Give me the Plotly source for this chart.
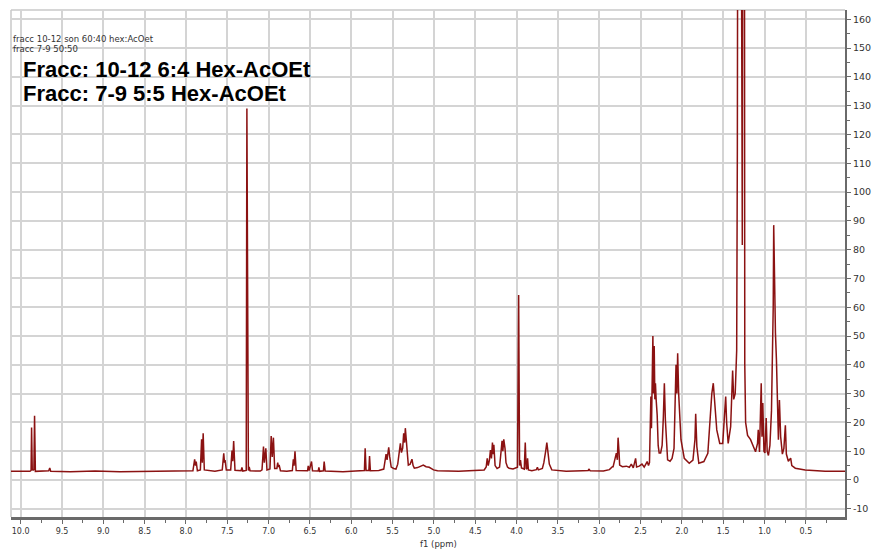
import plotly.graph_objects as go

# ---- spectrum trace values (ppm, intensity) ----
aldehyde_ppm = [10.117, 9.95, 9.888, 9.874, 9.868, 9.860, 9.850, 9.840, 9.832, 9.822,
                9.75, 9.660, 9.648, 9.636, 9.40, 9.10, 8.80, 8.50, 8.20, 7.95]
aldehyde_int = [3.0, 3.1, 3.0, 3.3, 18.2, 3.6, 3.4, 3.6, 22.3, 3.0,
                3.1, 3.2, 4.2, 3.0, 2.9, 3.1, 2.9, 3.0, 3.1, 3.0]

aromatic_ppm = [7.916, 7.895, 7.885, 7.876, 7.862, 7.826, 7.811, 7.802, 7.792, 7.778,
                7.65, 7.561, 7.543, 7.534, 7.527, 7.512, 7.459, 7.443, 7.434, 7.423,
                7.407, 7.333, 7.323, 7.312, 7.271, 7.263, 7.254, 7.245, 7.235, 7.225,
                7.10, 7.080, 7.062, 7.052, 7.034, 7.020, 6.984, 6.969, 6.956, 6.942,
                6.927, 6.900, 6.890, 6.882, 6.873, 6.857, 6.78, 6.713, 6.701, 6.692,
                6.681, 6.667, 6.529, 6.521, 6.509, 6.481, 6.469, 6.40, 6.392, 6.382,
                6.337, 6.328, 6.316, 6.20]
aromatic_int = [3.2, 7.2, 5.0, 6.4, 3.2, 3.5, 14.1, 6.0, 16.2, 3.5,
                3.0, 3.5, 9.3, 6.0, 6.9, 3.5, 3.5, 10.2, 6.5, 13.5,
                3.4, 3.2, 4.4, 3.1, 3.3, 129.0, 3.5, 3.3, 4.5, 3.2,
                3.1, 3.5, 11.6, 6.0, 11.0, 3.5, 3.8, 15.3, 8.0, 14.7,
                4.0, 4.0, 6.0, 4.5, 5.2, 3.2, 3.0, 3.3, 7.2, 5.0,
                10.0, 3.3, 3.2, 4.9, 3.3, 6.4, 3.2, 3.1, 4.4, 3.0,
                3.2, 6.4, 3.1, 3.0]

olefinic_ppm = [6.10, 5.95, 5.841, 5.832, 5.821, 5.787, 5.779, 5.769, 5.667, 5.607,
                5.579, 5.567, 5.547, 5.535, 5.517, 5.487, 5.459, 5.438, 5.423, 5.406,
                5.393, 5.378, 5.366, 5.354, 5.346, 5.334, 5.322, 5.310, 5.288, 5.266,
                5.252, 5.237, 5.198, 5.162, 5.129, 5.095, 5.057, 5.005, 4.957, 4.70]
olefinic_int = [2.9, 3.1, 3.3, 11.0, 3.3, 3.3, 8.3, 3.2, 3.3, 3.8,
                9.0, 7.0, 11.3, 8.1, 4.5, 4.0, 3.8, 5.5, 9.3, 12.7,
                9.5, 11.1, 16.2, 13.0, 18.0, 13.9, 8.0, 5.2, 5.5, 7.2,
                5.0, 4.1, 4.3, 4.8, 5.2, 4.6, 4.4, 3.5, 3.2, 3.0]

oxy_ppm = [4.392, 4.368, 4.355, 4.343, 4.328, 4.316, 4.304, 4.292, 4.284, 4.275,
           4.260, 4.236, 4.206, 4.188, 4.176, 4.166, 4.155, 4.140, 4.128, 4.110,
           4.091, 4.043, 4.007, 3.989, 3.975, 3.964, 3.953, 3.941, 3.907, 3.895,
           3.884, 3.875, 3.867, 3.857, 3.815, 3.760, 3.748, 3.736, 3.688, 3.670,
           3.646, 3.634, 3.619, 3.604, 3.574, 3.40, 3.20, 3.133, 3.126, 3.110,
           2.95]
oxy_int = [3.5, 4.5, 7.5, 5.0, 7.0, 10.4, 7.5, 13.0, 9.0, 12.2,
           5.0, 4.0, 4.5, 9.8, 13.6, 10.0, 14.1, 11.0, 6.0, 4.5,
           4.1, 3.8, 4.2, 4.4, 64.2, 5.0, 6.9, 4.2, 3.8, 13.0,
           3.8, 4.0, 7.5, 3.5, 3.2, 3.6, 4.4, 3.5, 4.0, 6.0,
           10.4, 13.0, 9.3, 5.5, 3.5, 3.0, 3.2, 3.3, 3.8, 3.2,
           3.1]

aliphatic_ppm = [2.877, 2.841, 2.832, 2.813, 2.793, 2.781, 2.772, 2.760, 2.753, 2.720,
                 2.672, 2.636, 2.612, 2.588, 2.560, 2.548, 2.516, 2.483, 2.456, 2.420,
                 2.404, 2.392, 2.375, 2.368, 2.351, 2.344, 2.335, 2.327, 2.320, 2.311,
                 2.299, 2.287, 2.275, 2.257, 2.239, 2.224, 2.212, 2.200, 2.188, 2.173,
                 2.143, 2.119, 2.095, 2.083, 2.071, 2.061, 2.051, 2.039, 2.031, 2.011,
                 1.971, 1.911, 1.866, 1.842, 1.833, 1.819, 1.795, 1.734, 1.686, 1.662,
                 1.638, 1.620, 1.602, 1.578, 1.542, 1.506, 1.488, 1.470, 1.458, 1.440,
                 1.410, 1.386, 1.373, 1.355, 1.337, 1.329, 1.310, 1.269, 1.250, 1.239,
                 1.229, 1.205, 1.169, 1.131, 1.109, 1.085, 1.076, 1.061, 1.049, 1.040,
                 1.031, 1.021, 1.007, 0.995, 0.980, 0.968, 0.953, 0.935, 0.916, 0.904,
                 0.895, 0.889, 0.880, 0.868, 0.856, 0.844, 0.832, 0.820, 0.805, 0.784,
                 0.766, 0.748, 0.736, 0.712, 0.684, 0.670, 0.628, 0.508, 0.267, 0.026]
aliphatic_int = [3.6, 4.6, 4.6, 6.9, 9.3, 7.0, 14.7, 9.4, 5.2, 4.6,
                 4.8, 4.4, 5.5, 4.2, 7.5, 4.5, 4.8, 5.5, 4.5, 6.4,
                 5.0, 6.0, 29.0, 18.0, 50.0, 30.0, 46.5, 28.0, 33.6, 27.8,
                 22.6, 12.0, 9.4, 9.4, 12.0, 22.0, 33.6, 21.0, 12.0, 7.0,
                 6.5, 7.5, 11.0, 22.0, 40.0, 30.0, 44.0, 30.0, 24.0, 14.0,
                 7.5, 5.8, 6.9, 14.0, 23.0, 11.6, 5.8, 6.4, 9.3, 19.7,
                 30.0, 33.6, 27.8, 17.4, 12.7, 12.7, 20.8, 29.0, 19.7, 12.7,
                 18.5, 38.0, 28.0, 30.0, 45.0, 114.6, 500.0, 81.6, 500.0, 40.0,
                 20.0, 15.5, 14.0, 11.6, 9.8, 12.7, 17.4, 9.7, 25.0, 33.6,
                 15.0, 26.7, 10.0, 9.4, 21.5, 10.0, 8.5, 12.0, 24.0, 41.7,
                 60.0, 88.5, 63.5, 51.0, 41.7, 25.0, 14.0, 27.8, 15.0, 9.0,
                 11.0, 19.0, 9.0, 6.5, 7.6, 5.0, 4.1, 3.5, 3.0, 3.0]

y_tick_vals = [-10, 0, 10, 20, 30, 40, 50, 60, 70, 80, 90, 100, 110, 120, 130, 140, 150, 160]
y_tick_text = [str(v) for v in y_tick_vals]

small_notes = ["fracc 10-12 son 60:40 hex:AcOet", "fracc 7-9 50:50"]
big_notes = ["Fracc: 10-12 6:4 Hex-AcOEt", "Fracc: 7-9 5:5 Hex-AcOEt"]

ppm = aldehyde_ppm + aromatic_ppm + olefinic_ppm + oxy_ppm + aliphatic_ppm
inten = aldehyde_int + aromatic_int + olefinic_int + oxy_int + aliphatic_int
assert len(ppm) == len(inten)

fig = go.Figure(go.Scatter(x=ppm, y=inten, mode="lines",
                           line=dict(color="#8b1212", width=1.5),
                           hoverinfo="skip"))

grid = "#d4d4d4"
axis_col = "#6a6a6a"
fig.update_layout(
    width=881, height=552,
    margin=dict(l=11, r=31, t=10, b=35, pad=0),
    paper_bgcolor="white", plot_bgcolor="white",
    showlegend=False,
    xaxis=dict(range=[10.117, 0.0265], tickmode="linear", tick0=0, dtick=0.5,
               tickformat=".1f", showgrid=True, gridcolor=grid, gridwidth=1.5,
               showline=True, linecolor=axis_col, linewidth=3,
               ticks="outside", ticklen=4, tickwidth=1, tickcolor=axis_col,
               tickfont=dict(family="DejaVu Sans", size=8, color="#333"),
               zeroline=False,
               minor=dict(dtick=0.25, tick0=0, ticks="outside", ticklen=3,
                          tickcolor=axis_col, showgrid=False)),
    yaxis=dict(side="right", range=[-12.85, 163.2], tickmode="array",
               tickvals=y_tick_vals, ticktext=y_tick_text,
               showgrid=True, gridcolor=grid, gridwidth=1.5,
               showline=True, linecolor=axis_col, linewidth=2,
               ticks="outside", ticklen=4, tickwidth=1, tickcolor=axis_col,
               tickfont=dict(family="DejaVu Sans", size=9.5, color="#333"),
               zeroline=False,
               minor=dict(dtick=5, tick0=0, ticks="outside", ticklen=3,
                          tickcolor=axis_col, showgrid=False)),
    shapes=[
        dict(type="line", xref="paper", yref="paper", x0=0, x1=0, y0=0, y1=1,
             line=dict(color="#c8c8c8", width=1.5), layer="below"),
        dict(type="line", xref="paper", yref="paper", x0=0, x1=1, y0=1, y1=1,
             line=dict(color="#c8c8c8", width=1.5), layer="below"),
    ],
)

annotations = []
for i, t in enumerate(small_notes):
    annotations.append(dict(text=t, xref="paper", yref="paper",
                            x=0.0, y=0.9419 - i * 0.0197, xanchor="left", yanchor="middle",
                            showarrow=False,
                            font=dict(family="DejaVu Sans", size=8.5, color="#333")))
for i, t in enumerate(big_notes):
    annotations.append(dict(text="<b>%s</b>" % t, xref="paper", yref="paper",
                            x=0.0125, y=0.8829 - i * 0.0483, xanchor="left", yanchor="middle",
                            showarrow=False,
                            font=dict(family="Liberation Sans", size=22, color="#000")))
annotations.append(dict(text="f1 (ppm)", xref="paper", yref="paper",
                        x=0.513, y=-0.053, xanchor="center", yanchor="middle",
                        showarrow=False,
                        font=dict(family="DejaVu Sans", size=8.5, color="#333")))
fig.update_layout(annotations=annotations)

fig.write_html("out.html", config={"displayModeBar": False},
               post_script="document.body.style.margin='0';document.body.style.padding='0';")
